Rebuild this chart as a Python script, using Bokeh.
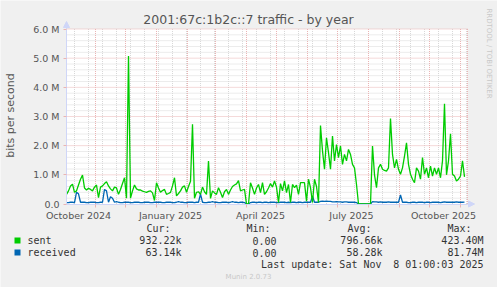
import math
import pandas as pd
from bokeh.plotting import figure
from bokeh.models import (Range1d, LinearAxis, FixedTicker, Label, BoxAnnotation,
                          DatetimeTickFormatter, Arrow, NormalHead, ColumnDataSource)
from bokeh.embed import file_html
from bokeh.resources import INLINE

# ---------------- data ----------------
title_text = "2001:67c:1b2c::7 traffic - by year"
y_axis_title = "bits per second"
range_start = "2024-10-03"
range_end = "2025-11-08"
series_start = "2024-10-03"
series_step = "2D"

# sent, in Mbit/s (one value every 2 days)
sent_mbps = [
    0.33, 0.45, 0.62, 0.68, 0.40, 0.45, 0.65, 0.85, 0.99, 0.55,
    0.48, 0.54, 0.50, 0.45, 0.58, 0.65, 0.22, 0.58, 0.62, 0.70,
    0.76, 0.62, 0.52, 0.45, 0.58, 0.55, 0.33, 0.50, 0.70, 0.90,
    0.20, 5.07, 0.20, 0.45, 0.65, 0.52, 0.48, 0.48, 0.44, 0.42,
    0.40, 0.43, 0.45, 0.38, 0.12, 0.73, 0.55, 0.40, 0.46, 0.50,
    0.33, 0.36, 0.40, 0.62, 0.90, 0.28, 0.36, 0.45, 0.58, 0.62,
    0.40, 0.60, 0.78, 2.73, 0.20, 0.40, 0.42, 0.33, 0.58, 0.42,
    0.33, 1.47, 0.19, 0.45, 0.38, 0.33, 0.56, 0.40, 0.22, 0.42,
    0.50, 0.33, 0.48, 0.60, 0.65, 0.69, 0.80, 0.45, 0.48, 0.50,
    0.00, 0.00, 0.73, 0.55, 0.33, 0.55, 0.67, 0.39, 0.73, 0.33,
    0.42, 0.55, 0.70, 0.58, 0.79, 0.58, 0.05, 0.70, 0.45, 0.79,
    0.39, 0.67, 0.05, 0.67, 0.56, 0.65, 0.33, 0.73, 0.73, 0.73,
    0.10, 0.85, 0.56, 0.05, 0.85, 0.60, 0.05, 2.69, 1.82, 1.19,
    2.27, 1.76, 1.19, 2.33, 1.48, 2.04, 1.59, 1.99, 1.36, 1.70,
    1.48, 1.87, 1.70, 1.36, 1.24, 0.67, 0.00, 0.00, 0.00, 0.00,
    0.00, 0.00, 0.00, 1.99, 1.00, 0.56, 1.24, 1.36, 1.19, 1.15,
    1.13, 1.24, 2.93, 1.70, 1.24, 1.53, 1.19, 1.02, 1.24, 1.64,
    2.10, 1.36, 1.02, 0.85, 0.73, 1.24, 1.13, 0.85, 1.59, 1.02,
    1.24, 0.90, 1.30, 0.96, 1.24, 1.02, 1.24, 0.90, 1.48, 3.44,
    1.00, 1.48, 2.41, 1.02, 0.96, 0.79, 0.85, 0.96, 1.48, 0.932,
]

# received, in Mbit/s
received_mbps = [
    0.05, 0.05, 0.06, 0.06, 0.05, 0.40, 0.35, 0.06, 0.06, 0.06,
    0.05, 0.05, 0.06, 0.06, 0.06, 0.05, 0.05, 0.06, 0.06, 0.50,
    0.45, 0.06, 0.25, 0.20, 0.06, 0.08, 0.06, 0.05, 0.05, 0.06,
    0.06, 0.06, 0.05, 0.05, 0.06, 0.06, 0.06, 0.05, 0.05, 0.06,
    0.06, 0.06, 0.05, 0.05, 0.06, 0.06, 0.06, 0.06, 0.05, 0.05,
    0.06, 0.06, 0.06, 0.05, 0.05, 0.06, 0.08, 0.06, 0.06, 0.05,
    0.05, 0.06, 0.06, 0.06, 0.05, 0.06, 0.06, 0.34, 0.06, 0.05,
    0.05, 0.06, 0.06, 0.08, 0.06, 0.06, 0.05, 0.05, 0.06, 0.06,
    0.06, 0.05, 0.06, 0.08, 0.06, 0.06, 0.05, 0.06, 0.06, 0.05,
    0.00, 0.00, 0.05, 0.06, 0.06, 0.05, 0.06, 0.06, 0.05, 0.06,
    0.06, 0.05, 0.06, 0.06, 0.06, 0.05, 0.05, 0.06, 0.06, 0.06,
    0.05, 0.06, 0.05, 0.06, 0.06, 0.05, 0.06, 0.06, 0.05, 0.06,
    0.06, 0.06, 0.06, 0.27, 0.06, 0.06, 0.06, 0.09, 0.10, 0.09,
    0.10, 0.09, 0.09, 0.07, 0.07, 0.08, 0.07, 0.07, 0.06, 0.07,
    0.07, 0.06, 0.06, 0.06, 0.06, 0.05, 0.00, 0.00, 0.00, 0.00,
    0.00, 0.00, 0.00, 0.08, 0.07, 0.07, 0.06, 0.07, 0.06, 0.06,
    0.06, 0.07, 0.06, 0.06, 0.06, 0.06, 0.06, 0.31, 0.06, 0.06,
    0.06, 0.05, 0.05, 0.06, 0.06, 0.05, 0.06, 0.06, 0.06, 0.05,
    0.06, 0.06, 0.05, 0.06, 0.06, 0.06, 0.06, 0.05, 0.06, 0.07,
    0.06, 0.06, 0.06, 0.06, 0.06, 0.07, 0.06, 0.06, 0.06, 0.063,
]

y_max = 6000000
y_ticks = [0, 1000000, 2000000, 3000000, 4000000, 5000000, 6000000]
y_tick_labels = ["0.0", "1.0 M", "2.0 M", "3.0 M", "4.0 M", "5.0 M", "6.0 M"]
y_minor_step = 200000
x_label_dates = ["2024-10-15", "2025-01-15", "2025-04-15", "2025-07-15", "2025-10-15"]
month_grid_dates = ["2024-11-01", "2024-12-01", "2025-01-01", "2025-02-01", "2025-03-01",
                    "2025-04-01", "2025-05-01", "2025-06-01", "2025-07-01", "2025-08-01",
                    "2025-09-01", "2025-10-01", "2025-11-01", "2025-11-08"]
week_grid_start = "2024-10-11"

legend_names = ["sent", "received"]
legend_headers = ["Cur:", "Min:", "Avg:", "Max:"]
legend_values = [
    ["932.22k", "0.00", "796.66k", "423.40M"],
    ["63.14k", "0.00", "58.28k", "81.74M"],
]
last_update_a = "Last update: Sat Nov"
last_update_b = "8 01:00:03 2025"
munin_version = "Munin 2.0.73"
side_text = "RRDTOOL / TOBI OETIKER"

# ---------------- styling / layout ----------------
BG = "#f0f0f0"
GREEN = "#00cc00"
BLUE = "#0066b3"
MGRID = "#eab4b4"
GRID = "#d8d8d8"
AXIS = "#cfd6f8"
TXT = "#555555"
LTXT = "#333333"

W, H = 497, 287
FL, FR, FT, FB = 66, 467, 28.5, 203.5   # plot area edges in canvas pixels


def ms(d):
    return pd.Timestamp(d).value // 10**6


T0, T1 = ms(range_start), ms(range_end)
KX = (T1 - T0) / (FR - FL)
KY = y_max / (FB - FT)


def dx(X):  # canvas pixel -> x data (for annotation placement)
    return T0 + (X - FL) * KX


def dy(Y):  # canvas pixel -> y data
    return (FB - Y) * KY


dates = pd.date_range(series_start, periods=len(sent_mbps), freq=series_step)
src = ColumnDataSource(dict(
    t=[ms(d) for d in dates],
    sent=[v * 1e6 for v in sent_mbps],
    received=[v * 1e6 for v in received_mbps],
))

p = figure(width=W, height=H, output_backend="svg", toolbar_location=None,
           x_axis_type=None, y_axis_type=None, title=None,
           x_range=Range1d(dx(0), dx(W)), y_range=Range1d(dy(H), dy(0)),
           min_border=0)
p.background_fill_color = BG
p.border_fill_color = BG
p.outline_line_color = None
p.xgrid.visible = False
p.ygrid.visible = False

# plot canvas
p.add_layout(BoxAnnotation(left=T0, right=T1, bottom=0, top=y_max, fill_color="white",
                           fill_alpha=1.0, line_color=None, level="underlay"))

# grid lines (from tick values)
y_minor = [v for v in range(0, y_max + 1, y_minor_step) if v % 1000000 != 0]
week_ticks = [ms(d) for d in pd.date_range(week_grid_start, range_end, freq="14D")]
month_ticks = [ms(d) for d in month_grid_dates]
p.segment(x0=[T0] * len(y_minor), y0=y_minor, x1=[T1] * len(y_minor), y1=y_minor,
          line_color=GRID, line_width=1, line_dash="1 1")
p.segment(x0=week_ticks, y0=[0] * len(week_ticks), x1=week_ticks, y1=[y_max] * len(week_ticks),
          line_color=GRID, line_width=1, line_dash="1 1")
p.segment(x0=[T0] * (len(y_ticks) - 1), y0=y_ticks[1:], x1=[T1] * (len(y_ticks) - 1), y1=y_ticks[1:],
          line_color=MGRID, line_width=1, line_dash="1 1")
p.segment(x0=month_ticks, y0=[0] * len(month_ticks), x1=month_ticks, y1=[y_max] * len(month_ticks),
          line_color=MGRID, line_width=1, line_dash="1 1")

# axes
yax = LinearAxis(ticker=FixedTicker(ticks=y_ticks, minor_ticks=y_minor),
                 major_label_overrides=dict(zip(y_ticks, y_tick_labels)),
                 fixed_location=T0, bounds=(0, y_max))
yax.axis_line_color = AXIS
yax.major_tick_line_color = MGRID
yax.major_tick_out = 3
yax.major_tick_in = 0
yax.minor_tick_line_color = None
yax.major_label_standoff = 3
yax.major_label_text_font = "DejaVu Sans"
yax.major_label_text_font_size = "9.5px"
yax.major_label_text_color = TXT
p.add_layout(yax, "left")

xax = LinearAxis(ticker=FixedTicker(ticks=[ms(d) for d in x_label_dates], minor_ticks=month_ticks[:-1]),
                 formatter=DatetimeTickFormatter(months="%B %Y", days="%B %Y"),
                 fixed_location=0, bounds=(T0, T1))
xax.axis_line_color = AXIS
xax.major_tick_line_color = None
xax.major_tick_out = 0
xax.major_tick_in = 0
xax.minor_tick_line_color = MGRID
xax.minor_tick_out = 3
xax.minor_tick_in = 0
xax.major_label_standoff = 3
xax.major_label_text_font = "DejaVu Sans"
xax.major_label_text_font_size = "9.5px"
xax.major_label_text_color = TXT
p.add_layout(xax, "below")

# axis arrows
p.add_layout(Arrow(x_start=T1, y_start=0, x_end=dx(474), y_end=0, line_color=AXIS, line_width=1,
                   end=NormalHead(size=6, fill_color=AXIS, line_color=AXIS)))
p.add_layout(Arrow(x_start=T0, y_start=y_max, x_end=T0, y_end=dy(21), line_color=AXIS, line_width=1,
                   end=NormalHead(size=6, fill_color=AXIS, line_color=AXIS)))

# series
p.line("t", "received", source=src, line_color=BLUE, line_width=1.3)
p.line("t", "sent", source=src, line_color=GREEN, line_width=1.3)


def label(X, Y, text, size="10px", font="DejaVu Sans Mono", color=LTXT, align="left", angle=0.0):
    p.add_layout(Label(x=dx(X), y=dy(Y), text=text,
                       text_font=font, text_font_size=size, text_color=color,
                       text_align=align, text_baseline="middle", angle=angle))


# titles
label(248, 19, title_text, size="12.5px", font="DejaVu Sans", color=TXT, align="center")
label(10, 115, y_axis_title, size="11px", font="DejaVu Sans", color=TXT, align="center",
      angle=math.pi / 2)
label(488, 53, side_text, size="7px", font="DejaVu Sans", color="#c8c8c8", align="center",
      angle=-math.pi / 2)

# legend
header_left = [146, 246, 347, 447]
value_right = [181, 276, 382, 483]
row_y = [240, 252]
for hx, h in zip(header_left, legend_headers):
    label(hx, 228, h)
for r, (name, color) in enumerate(zip(legend_names, [GREEN, BLUE])):
    p.add_layout(BoxAnnotation(left=dx(14), right=dx(20), top=dy(row_y[r] - 3), bottom=dy(row_y[r] + 3),
                               fill_color=color, fill_alpha=1.0, line_color=None))
    label(27, row_y[r], name)
    for vx, v in zip(value_right, legend_values[r]):
        label(vx, row_y[r], v, align="right")
label(483, 264, last_update_b, align="right")
label(381, 264, last_update_a, align="right")
label(248, 276, munin_version, size="7px", font="DejaVu Sans", color="#c8c8c8", align="center")

open("out.html", "w").write(file_html(p, INLINE))
